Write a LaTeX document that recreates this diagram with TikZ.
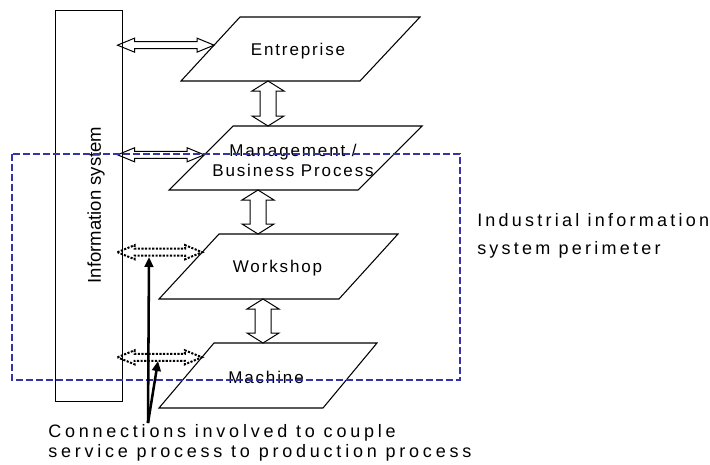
\documentclass[tikz,border=0pt]{standalone}
\usepackage{fontspec}
\setmainfont{Liberation Sans}
\newfontfamily\boxfont[LetterSpace=11]{Liberation Sans}
\newfontfamily\widefont[LetterSpace=18]{Liberation Sans}
\newfontfamily\capfont[LetterSpace=21]{Liberation Sans}
\usepackage{tikz}
\usetikzlibrary{arrows.meta,calc}
\definecolor{perimblue}{RGB}{51,51,170}

\tikzset{
  levelline/.style={line width=0.8pt, line join=miter},
  leveltext/.style={inner sep=0pt, align=center, font=\boxfont\fontsize{12.75}{15}\selectfont},
  hdbl/.style={to path={let \p1=(\tikztostart), \p2=(\tikztotarget) in
    -- (\x1+12.75pt,\y1+5.25pt) -- (\x1+12.75pt,\y1+2.6pt) -- (\x2-12.75pt,\y1+2.6pt)
    -- (\x2-12.75pt,\y1+5.25pt) -- (\x2,\y1) -- (\x2-12.75pt,\y1-5.25pt)
    -- (\x2-12.75pt,\y1-2.6pt) -- (\x1+12.75pt,\y1-2.6pt) -- (\x1+12.75pt,\y1-5.25pt) -- cycle}},
  vdbl/.style={to path={let \p1=(\tikztostart), \p2=(\tikztotarget) in
    -- (\x1+12pt,\y1-7.5pt) -- (\x1+6pt,\y1-7.5pt) -- (\x1+6pt,\y2+7.5pt)
    -- (\x1+12pt,\y2+7.5pt) -- (\x1,\y2) -- (\x1-12pt,\y2+7.5pt)
    -- (\x1-6pt,\y2+7.5pt) -- (\x1-6pt,\y1-7.5pt) -- (\x1-12pt,\y1-7.5pt) -- cycle}},
  solidlink/.style={draw, line width=0.75pt},
  dotlink/.style={draw, line width=1.5pt, dash pattern=on 1.6pt off 1.1pt},
  pointer/.style={line width=1.9pt, -{Triangle[length=7.5pt,width=6.5pt]}},
  widelabel/.style={font=\widefont\fontsize{13.5}{15}\selectfont, align=left, inner sep=0pt},
}

\begin{document}
\begin{tikzpicture}[x=0.75pt, y=-0.75pt]
  \useasboundingbox (0,0) rectangle (710,464);
  % --- information system column
  \node[draw, line width=0.75pt, minimum width=50.25pt, minimum height=293.25pt, inner sep=0pt]
    (is) at (88.5,205.5) {};
  \node[rotate=90, inner sep=0pt, font=\fontsize{13.9}{16}\selectfont] (istext) at (96,205) {Information system};
  % --- levels
  \coordinate (ent-bl) at (181,81);  \coordinate (ent-tl) at (240,17);
  \coordinate (ent-tr) at (420,17);  \coordinate (ent-br) at (360,81);
  \draw[levelline] (ent-bl) -- (ent-tl) -- (ent-tr) -- (ent-br) -- cycle;
  \node[leveltext] (ent) at (298,51.5) {Entreprise};
  \coordinate (mgt-bl) at (169,190); \coordinate (mgt-tl) at (233,126);
  \coordinate (mgt-tr) at (422,126); \coordinate (mgt-br) at (358,190);
  \draw[levelline] (mgt-bl) -- (mgt-tl) -- (mgt-tr) -- (mgt-br) -- cycle;
  \node[leveltext] (mgt) at (293,160) {Management /\\Business Process};
  \coordinate (wsp-bl) at (159,299); \coordinate (wsp-tl) at (219,234);
  \coordinate (wsp-tr) at (398,234); \coordinate (wsp-br) at (339,299);
  \draw[levelline] (wsp-bl) -- (wsp-tl) -- (wsp-tr) -- (wsp-br) -- cycle;
  \node[leveltext] (wsp) at (277.5,268.5) {Workshop};
  \coordinate (mach-bl) at (159,408); \coordinate (mach-tl) at (214,343);
  \coordinate (mach-tr) at (377,343); \coordinate (mach-br) at (323,408);
  \draw[levelline] (mach-bl) -- (mach-tl) -- (mach-tr) -- (mach-br) -- cycle;
  \node[leveltext] (mach) at (266,377) {Machine};
  % --- vertical links between levels
  \coordinate (v1) at (268,81);
  \coordinate (v2) at (258,190);
  \coordinate (v3) at (263,299);
  \draw[solidlink, vdbl] (v1) to (v1 |- mgt-tl);
  \draw[solidlink, vdbl] (v2) to (v2 |- wsp-tl);
  \draw[solidlink, vdbl] (v3) to (v3 |- mach-tl);
  % --- links to the information system
  \coordinate (h1) at ($(ent-bl)!0.56!(ent-tl)$);
  \coordinate (h2) at ($(mgt-bl)!0.55!(mgt-tl)$);
  \coordinate (h3) at ($(wsp-bl)!0.72!(wsp-tl)$);
  \coordinate (h4) at ($(mach-bl)!0.78!(mach-tl)$);
  \draw[solidlink, hdbl] ([xshift=-3.75pt]is.east |- h1) to (h1);
  \draw[solidlink, hdbl] ([xshift=-3.75pt]is.east |- h2) to (h2);
  \draw[dotlink, hdbl] ([xshift=-3.75pt]is.east |- h3) to (h3);
  \draw[dotlink, hdbl] ([xshift=-3.75pt]is.east |- h4) to (h4);
  % --- perimeter
  \draw[perimblue, line width=1.1pt, dash pattern=on 5pt off 2.5pt] (12,154) rectangle (460,380);
  \node[widelabel, anchor=north west, font=\widefont\fontsize{13.5}{21}\selectfont]
    (perlbl) at (477,213) {Industrial information\\system perimeter};
  % --- caption and pointers
  \node[widelabel, anchor=north west, font=\capfont\fontsize{13.5}{15}\selectfont] (cap) at (48,424)
    {Connections involved to couple\\service process to production process};
  \coordinate (src) at (148,423);
  \coordinate (p1) at (149,257);
  \coordinate (p2) at (158,361);
  \draw[pointer] (src) -- (p1);
  \draw[pointer] (src) -- (p2);
\end{tikzpicture}
\end{document}
